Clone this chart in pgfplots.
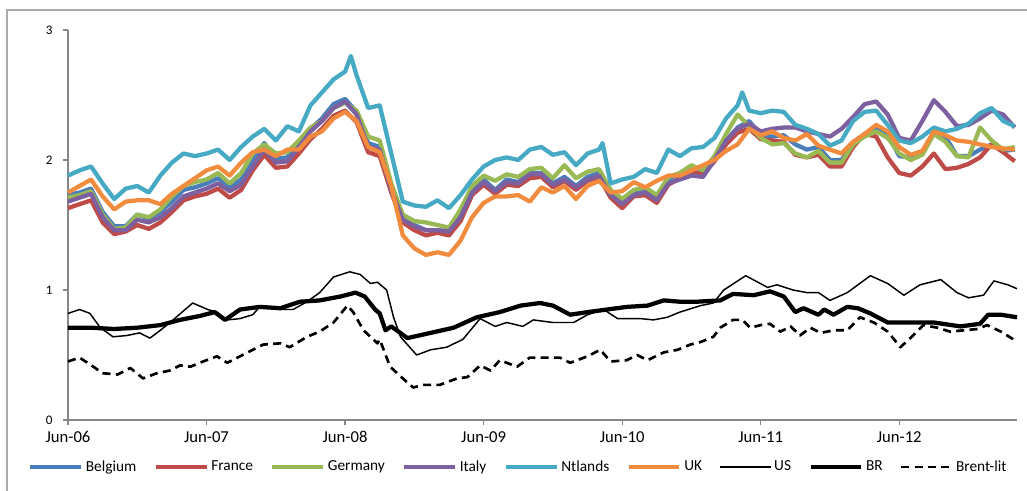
\documentclass[border=0pt]{standalone}
\usepackage{fontspec}
\setmainfont{Carlito}
\usepackage{pgfplots}
\usepackage{pgfplotstable}
\pgfplotsset{compat=1.18}
\definecolor{cBE}{RGB}{74,126,187}
\definecolor{cFR}{RGB}{190,75,72}
\definecolor{cDE}{RGB}{152,185,84}
\definecolor{cIT}{RGB}{125,96,160}
\definecolor{cNL}{RGB}{70,170,197}
\definecolor{cUK}{RGB}{241,140,62}
\definecolor{axisgray}{RGB}{134,134,134}
\definecolor{framegray}{RGB}{170,170,170}

\pgfplotstableread{
m BE FR DE IT UK
0 1.73 1.63 1.71 1.68 1.75
1 1.75 1.66 1.73 1.71 1.80
2 1.78 1.69 1.76 1.74 1.85
3 1.60 1.52 1.58 1.56 1.72
4 1.49 1.43 1.47 1.46 1.62
5 1.49 1.45 1.48 1.46 1.68
6 1.58 1.50 1.58 1.54 1.69
7 1.55 1.47 1.56 1.52 1.69
8 1.60 1.52 1.62 1.56 1.66
9 1.68 1.60 1.72 1.63 1.74
10 1.77 1.69 1.80 1.72 1.80
11 1.79 1.72 1.83 1.75 1.86
12 1.82 1.74 1.85 1.78 1.92
13 1.86 1.78 1.90 1.82 1.95
14 1.79 1.71 1.82 1.76 1.88
15 1.85 1.77 1.90 1.81 1.98
16 2.00 1.92 2.05 1.95 2.06
17 2.13 2.04 2.12 2.08 2.08
18 2.01 1.94 2.05 1.98 2.03
19 2.02 1.95 2.06 1.99 2.08
20 2.13 2.05 2.15 2.10 2.08
21 2.24 2.16 2.25 2.22 2.18
22 2.32 2.24 2.30 2.30 2.22
23 2.43 2.34 2.40 2.40 2.32
24 2.47 2.38 2.44 2.45 2.37
25 2.37 2.29 2.38 2.35 2.30
26 2.13 2.06 2.18 2.10 2.10
27 2.10 2.03 2.15 2.08 2.06
28 1.79 1.75 1.82 1.77 1.80
29 1.56 1.52 1.58 1.54 1.42
30 1.50 1.46 1.53 1.49 1.32
31 1.46 1.42 1.52 1.46 1.27
32 1.46 1.44 1.50 1.46 1.29
33 1.45 1.42 1.48 1.45 1.27
34 1.57 1.53 1.62 1.56 1.38
35 1.77 1.73 1.80 1.75 1.56
36 1.85 1.81 1.88 1.83 1.67
37 1.77 1.74 1.84 1.76 1.72
38 1.85 1.81 1.89 1.83 1.72
39 1.83 1.80 1.87 1.82 1.73
40 1.90 1.86 1.93 1.89 1.68
41 1.90 1.87 1.94 1.89 1.79
42 1.82 1.79 1.86 1.81 1.75
43 1.87 1.84 1.96 1.85 1.80
44 1.80 1.77 1.86 1.79 1.70
45 1.87 1.84 1.91 1.85 1.80
46 1.90 1.87 1.93 1.88 1.84
47 1.75 1.71 1.77 1.73 1.75
48 1.67 1.63 1.70 1.66 1.76
49 1.75 1.72 1.77 1.73 1.83
50 1.77 1.73 1.79 1.75 1.79
51 1.70 1.67 1.73 1.69 1.84
52 1.85 1.81 1.87 1.82 1.88
53 1.90 1.86 1.90 1.85 1.88
54 1.95 1.91 1.96 1.88 1.92
55 1.92 1.89 1.92 1.87 1.96
56 2.02 1.99 2.03 2.00 2.00
57 2.15 2.12 2.20 2.15 2.07
58 2.25 2.21 2.35 2.24 2.12
59 2.30 2.24 2.26 2.28 2.24
60 2.19 2.16 2.17 2.22 2.19
61 2.18 2.15 2.12 2.24 2.22
62 2.19 2.14 2.13 2.25 2.17
63 2.12 2.04 2.05 2.25 2.15
64 2.08 2.02 2.02 2.22 2.20
65 2.10 2.04 2.07 2.20 2.11
66 2.00 1.95 1.98 2.18 2.08
67 2.00 1.95 1.98 2.24 2.05
68 2.13 2.10 2.12 2.33 2.14
69 2.20 2.20 2.18 2.43 2.20
70 2.24 2.18 2.22 2.45 2.27
71 2.20 2.02 2.17 2.35 2.22
72 2.03 1.90 2.05 2.17 2.10
73 2.02 1.88 2.00 2.15 2.04
74 2.05 1.95 2.04 2.30 2.07
75 2.22 2.05 2.20 2.46 2.22
76 2.18 1.93 2.14 2.37 2.19
77 2.03 1.94 2.03 2.26 2.15
78 2.03 1.97 2.02 2.27 2.14
79 2.08 2.02 2.25 2.32 2.12
80 2.12 2.12 2.15 2.38 2.10
81 2.07 2.06 2.08 2.35 2.09
82 2.08 1.99 2.10 2.25 2.08
}\europe

\pgfplotstableread{
m NL
0 1.88
1 1.92
2 1.95
3 1.82
4 1.70
5 1.78
6 1.80
7 1.75
8 1.88
9 1.98
10 2.05
11 2.03
12 2.05
13 2.08
14 2.00
15 2.10
16 2.18
17 2.24
18 2.15
19 2.26
20 2.22
21 2.42
22 2.52
23 2.62
24 2.68
24.5 2.80
25 2.65
26 2.40
27 2.42
28 2.05
29 1.68
30 1.65
31 1.64
32 1.69
33 1.63
34 1.73
35 1.85
36 1.95
37 2.00
38 2.02
39 2.00
40 2.08
41 2.10
42 2.04
43 2.06
44 1.96
45 2.05
46 2.08
46.3 2.13
47 1.82
48 1.85
49 1.87
50 1.93
51 1.90
52 2.08
53 2.03
54 2.09
55 2.10
56 2.17
57 2.32
58 2.42
58.4 2.52
59 2.38
60 2.36
61 2.38
62 2.37
63 2.27
64 2.24
65 2.20
66 2.11
67 2.15
68 2.30
69 2.37
70 2.38
71 2.27
72 2.15
73 2.13
74 2.18
75 2.25
76 2.22
77 2.24
78 2.28
79 2.36
80 2.40
81 2.30
82 2.26
}\netherlands

\pgfplotstableread{
m US
0 0.82
1.0 0.85
1.9 0.82
2.8 0.71
3.9 0.64
5.1 0.65
6.2 0.67
7.1 0.63
8.0 0.69
9.1 0.77
10.8 0.90
12.1 0.85
12.9 0.83
13.8 0.77
14.9 0.78
16.0 0.81
16.6 0.87
18.4 0.85
19.5 0.85
20.7 0.91
21.8 0.98
23.0 1.10
24.4 1.14
25.3 1.12
26.2 1.05
26.8 1.06
27.6 1.00
28.2 0.79
28.8 0.64
30.2 0.50
31.4 0.54
32.8 0.56
34.2 0.62
35.7 0.78
37.0 0.72
38.0 0.75
39.4 0.72
40.3 0.77
42.0 0.75
43.8 0.75
45.0 0.81
46.4 0.85
47.6 0.78
49.6 0.78
50.7 0.77
51.9 0.79
53.0 0.83
54.8 0.88
55.9 0.90
56.8 1.00
58.7 1.11
60.6 1.02
61.4 1.04
62.8 1.00
64.0 0.98
65.0 0.98
66.0 0.92
67.5 0.98
69.5 1.11
71.0 1.05
72.4 0.96
73.8 1.04
75.6 1.08
77.0 0.98
78.0 0.94
79.3 0.96
80.2 1.07
81.4 1.04
82.2 1.01
}\us

\pgfplotstableread{
m BR
0 0.71
2 0.71
4 0.70
6 0.71
8 0.73
9.7 0.77
11.4 0.80
12.7 0.83
13.6 0.77
14.9 0.85
16.6 0.87
18.4 0.86
20.1 0.91
21.8 0.92
23.6 0.95
24.9 0.98
25.7 0.95
26.6 0.85
27.0 0.82
27.5 0.69
28.0 0.72
29.4 0.63
31.4 0.67
33.4 0.71
35.4 0.79
37.4 0.83
39.2 0.88
40.9 0.90
42.0 0.88
43.5 0.81
45.0 0.83
46.7 0.85
48.4 0.87
50.2 0.88
51.6 0.92
53.0 0.91
54.5 0.91
56.5 0.92
57.6 0.97
59.4 0.96
60.8 0.99
62.0 0.95
63.0 0.83
63.7 0.86
65.0 0.81
65.5 0.85
66.3 0.81
67.5 0.87
68.4 0.86
69.5 0.82
71.0 0.75
72.7 0.75
75.0 0.75
77.3 0.72
79.0 0.74
79.7 0.81
80.8 0.81
82.2 0.79
}\br

\pgfplotstableread{
m Brent
0 0.45
1.0 0.48
2.2 0.41
3.0 0.36
4.3 0.35
5.4 0.40
6.5 0.32
7.7 0.36
8.8 0.38
9.7 0.42
10.6 0.41
11.7 0.45
12.9 0.49
13.8 0.44
14.9 0.49
16.0 0.54
16.9 0.58
18.4 0.59
19.2 0.56
20.7 0.64
21.8 0.68
23.0 0.75
24.2 0.88
24.7 0.83
25.6 0.69
26.8 0.59
27.0 0.62
27.9 0.41
29.0 0.32
29.9 0.25
30.8 0.27
32.2 0.27
33.7 0.32
34.6 0.33
35.7 0.42
36.6 0.38
37.4 0.46
38.9 0.41
40.0 0.48
41.5 0.48
42.6 0.48
43.5 0.44
45.0 0.49
46.1 0.54
47.0 0.45
48.4 0.46
49.3 0.50
50.2 0.46
51.6 0.52
52.8 0.54
53.9 0.58
54.8 0.60
55.9 0.64
56.5 0.71
57.6 0.77
58.4 0.77
59.1 0.71
60.0 0.73
60.8 0.74
61.7 0.68
62.6 0.72
63.4 0.65
64.3 0.71
65.2 0.67
66.3 0.69
67.5 0.69
68.6 0.79
69.8 0.75
71.0 0.68
72.1 0.56
73.2 0.65
74.1 0.73
75.3 0.71
76.4 0.68
77.6 0.69
78.8 0.70
79.6 0.73
80.8 0.68
81.9 0.62
}\brent

\begin{document}
\begin{tikzpicture}
\useasboundingbox (-51pt,-52.5pt) rectangle (719.25pt,315pt);
\draw[framegray, line width=1.1pt] (-45.75pt,-60pt) -- (-45.75pt,307.5pt) -- (730pt,307.5pt);
\begin{axis}[
  at={(0pt,0pt)}, anchor=south west,
  scale only axis,
  width=711.75pt, height=292.5pt,
  xmin=0, xmax=82.2, ymin=0, ymax=3,
  axis lines=left,
  axis line style={axisgray, line width=1.1pt, -},
  tick style={axisgray, line width=1pt},
  tick align=outside,
  major tick length=4pt,
  xtick={0,12,24,36,48,60,72},
  xticklabels={Jun-06,Jun-07,Jun-08,Jun-09,Jun-10,Jun-11,Jun-12},
  ytick={0,1,2,3},
  /pgf/number format/assume math mode=true,
  x tick label style={font=\fontsize{12.5}{14}\selectfont, yshift=-1pt},
  y tick label style={font=\fontsize{9.8}{11}\selectfont, xshift=-4pt},
  legend columns=9,
  legend style={draw=none, fill=none, at={(0.475,-0.1205)}, anchor=center,
    font=\fontsize{11.5}{13}\selectfont,
    /tikz/every even column/.append style={column sep=11pt},
    nodes={inner sep=2pt}},
  legend image code/.code={\draw[#1] (0pt,0pt) -- (38pt,0pt);},
  every axis plot/.append style={line join=round},
  clip=false,
]
\addplot[cBE, line width=3.2pt] table[x=m, y=BE] {\europe};
\addlegendentry{Belgium}
\addplot[cFR, line width=3.2pt] table[x=m, y=FR] {\europe};
\addlegendentry{France}
\addplot[cDE, line width=3.2pt] table[x=m, y=DE] {\europe};
\addlegendentry{Germany}
\addplot[cIT, line width=3.2pt] table[x=m, y=IT] {\europe};
\addlegendentry{Italy}
\addplot[cNL, line width=3.2pt] table[x=m, y=NL] {\netherlands};
\addlegendentry{Ntlands}
\addplot[cUK, line width=3.2pt] table[x=m, y=UK] {\europe};
\addlegendentry{UK}
\addplot[black, line width=1.1pt] table[x=m, y=US] {\us};
\addlegendentry{US}
\addplot[black, line width=3.2pt] table[x=m, y=BR] {\br};
\addlegendentry{BR}
\addplot[black, line width=2pt, dash pattern=on 6pt off 4pt] table[x=m, y=Brent] {\brent};
\addlegendentry{Brent-lit}
\end{axis}
\end{tikzpicture}
\end{document}
